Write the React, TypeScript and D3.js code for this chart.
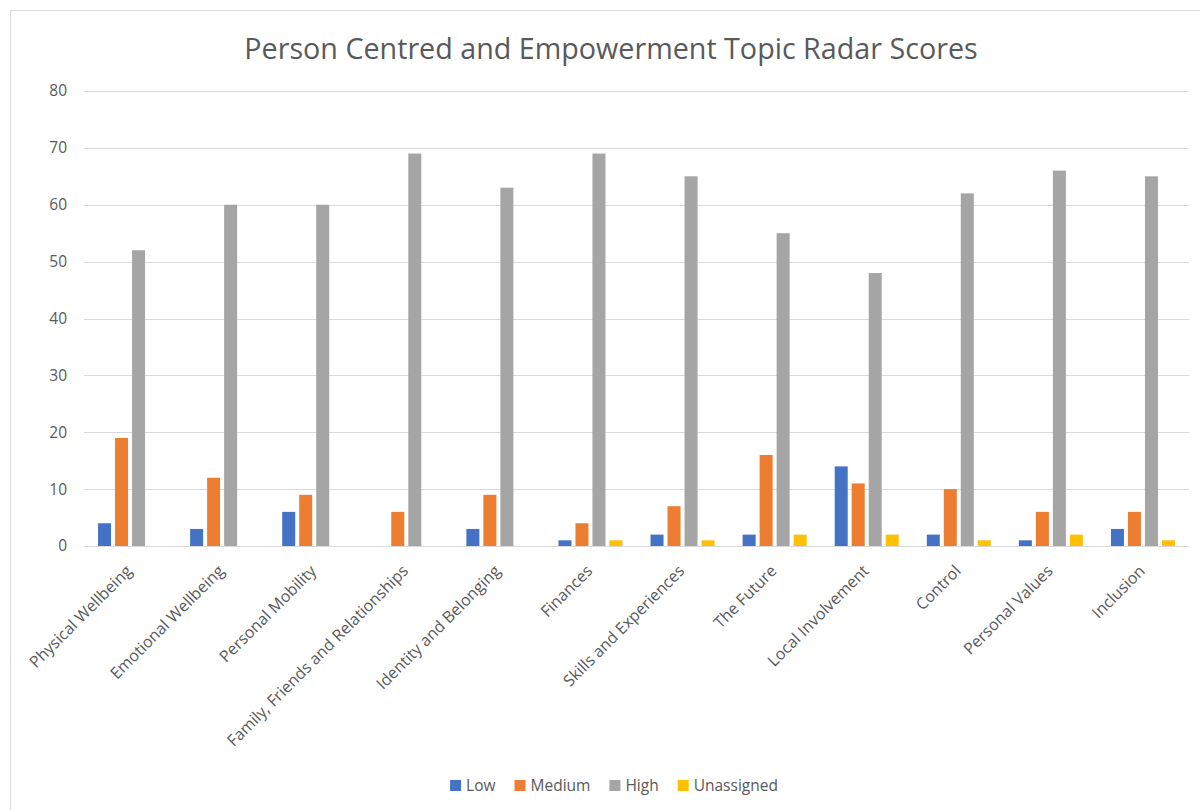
import React, { useEffect, useRef } from "react";
import * as d3 from "d3";

const title = "Person Centred and Empowerment Topic Radar Scores";
const categories = [
  "Physical Wellbeing",
  "Emotional Wellbeing",
  "Personal Mobility",
  "Family, Friends and Relationships",
  "Identity and Belonging",
  "Finances",
  "Skills and Experiences",
  "The Future",
  "Local Involvement",
  "Control",
  "Personal Values",
  "Inclusion",
];
const seriesNames = ["Low", "Medium", "High", "Unassigned"];
const low = [4, 3, 6, 0, 3, 1, 2, 2, 14, 2, 1, 3];
const medium = [19, 12, 9, 6, 9, 4, 7, 16, 11, 10, 6, 6];
const high = [52, 60, 60, 69, 63, 69, 65, 55, 48, 62, 66, 65];
const unassigned = [0, 0, 0, 0, 0, 1, 1, 2, 2, 1, 2, 1];
const yTicks = [0, 10, 20, 30, 40, 50, 60, 70, 80];
const colors = ["#4472C4", "#ED7D31", "#A5A5A5", "#FFC000"];

const W = 1200;
const H = 810;
const FONT = "'Open Sans', 'Liberation Sans', sans-serif";

export default function App() {
  const ref = useRef<SVGSVGElement | null>(null);

  useEffect(() => {
    const svg = d3.select(ref.current);
    svg.selectAll("*").remove();

    const values = [low, medium, high, unassigned];
    const left = 84;
    const right = 1189;
    const top = 91;
    const bottom = 546;

    svg
      .append("rect")
      .attr("x", 10.5)
      .attr("y", 10.5)
      .attr("width", W)
      .attr("height", H)
      .attr("fill", "#fff")
      .attr("stroke", "#D9D9D9");

    svg
      .append("text")
      .attr("x", 611)
      .attr("y", 59)
      .attr("text-anchor", "middle")
      .attr("font-family", FONT)
      .attr("font-size", 28.7)
      .attr("fill", "#595959")
      .text(title);

    const x = d3.scaleBand<string>().domain(categories).range([left, right]);
    const y = d3.scaleLinear().domain([0, 80]).range([bottom, top]);
    const inner = d3
      .scaleBand<string>()
      .domain(seriesNames)
      .range([0, 64])
      .paddingInner(4 / 17)
      .paddingOuter(0);

    const grid = svg.append("g");
    yTicks.forEach((t) => {
      grid
        .append("line")
        .attr("x1", left)
        .attr("x2", right)
        .attr("y1", Math.round(y(t)) + 0.5)
        .attr("y2", Math.round(y(t)) + 0.5)
        .attr("stroke", "#D9D9D9")
        .attr("stroke-width", 1);
      grid
        .append("text")
        .attr("x", 67)
        .attr("y", y(t))
        .attr("dy", "0.35em")
        .attr("text-anchor", "end")
        .attr("font-family", FONT)
        .attr("font-size", 15.5)
        .attr("fill", "#595959")
        .text(String(t));
    });

    const bars = svg.append("g");
    categories.forEach((c, i) => {
      const gx = (x(c) as number) + x.bandwidth() / 2 - 32;
      seriesNames.forEach((s, j) => {
        const v = values[j][i];
        if (v <= 0) return;
        bars
          .append("rect")
          .attr("x", gx + (inner(s) as number))
          .attr("y", y(v))
          .attr("width", inner.bandwidth())
          .attr("height", y(0) - y(v))
          .attr("fill", colors[j]);
      });
    });

    const labels = svg.append("g");
    categories.forEach((c) => {
      const cx = (x(c) as number) + x.bandwidth() / 2 - 1;
      const cy = 568;
      labels
        .append("text")
        .attr("transform", `translate(${cx},${cy}) rotate(-45)`)
        .attr("text-anchor", "end")
        .attr("dy", "0.35em")
        .attr("font-family", FONT)
        .attr("font-size", 16)
        .attr("fill", "#595959")
        .text(c);
    });

    // legend
    const lg = svg.append("g");
    const items: { g: any; w: number }[] = [];
    seriesNames.forEach((s, j) => {
      const g = lg.append("g");
      g.append("rect")
        .attr("x", 0)
        .attr("y", -5)
        .attr("width", 11)
        .attr("height", 11)
        .attr("fill", colors[j]);
      const t = g
        .append("text")
        .attr("x", 16)
        .attr("y", 0)
        .attr("dy", "0.4em")
        .attr("font-family", FONT)
        .attr("font-size", 15.5)
        .attr("fill", "#595959")
        .text(s);
      const tw = (t.node() as SVGTextElement).getComputedTextLength();
      items.push({ g, w: 16 + tw });
    });
    const gap = 19;
    const total = d3.sum(items, (d) => d.w) + gap * (items.length - 1);
    let cur = 614 - total / 2;
    items.forEach((it) => {
      it.g.attr("transform", `translate(${cur},785)`);
      cur += it.w + gap;
    });
  }, []);

  return (
    <svg
      ref={ref}
      width={W}
      height={H}
      style={{ position: "absolute", left: 0, top: 0, background: "#fff" }}
    />
  );
}
